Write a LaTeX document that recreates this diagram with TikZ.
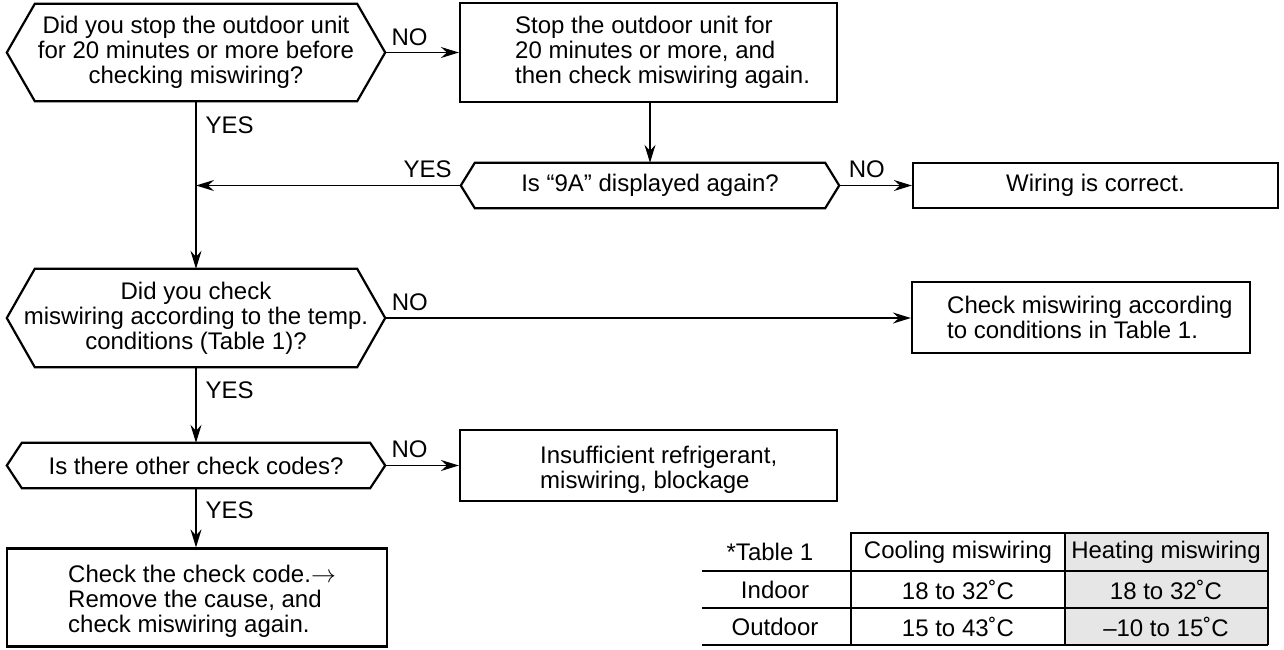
\documentclass[tikz,border=0pt]{standalone}
\usepackage{fontspec}
\setmainfont{Liberation Sans}
\usetikzlibrary{arrows.meta}
\definecolor{tblgray}{RGB}{230,230,230}
\newcommand{\hexdraw}[2]{\draw[hexline] (#1.west) -- ([xshift=#2pt]#1.north west) -- ([xshift=-#2pt]#1.north east) -- (#1.east) -- ([xshift=-#2pt]#1.south east) -- ([xshift=#2pt]#1.south west) -- cycle;}
\begin{document}
\begin{tikzpicture}[x=1pt,y=-1pt,
  every node/.style={font=\fontsize{24}{25}\selectfont, inner sep=0pt},
  sz/.style 2 args={minimum width=#1pt, minimum height=#2pt},
  boxn/.style={draw, line width=2.2pt},
  hexline/.style={line width=2.2pt, line join=miter},
  conn/.style={line width=1.4pt},
  arr/.style={conn, -{Stealth[length=18pt,width=11pt,inset=6pt]}},
  lbl/.style={inner sep=0pt},
  tline/.style={line width=1.3pt},
  touter/.style={line width=2pt},
]
\useasboundingbox (0,0) rectangle (1284,649);

% decisions
\node[sz={378}{97}, align=center] (h1) at (196,52.5) {Did you stop the outdoor unit\\for 20 minutes or more before\\checking miswiring?};
\hexdraw{h1}{28}
\node[sz={378}{45}] (h2) at (650,185.5) {Is “9A” displayed again?};
\hexdraw{h2}{14}
\node[sz={378}{98}, align=center] (h3) at (196,318) {Did you check\\miswiring according to the temp.\\conditions (Table 1)?};
\hexdraw{h3}{28}
\node[sz={378}{45}] (h4) at (196,465.5) {Is there other check codes?};
\hexdraw{h4}{15}

% process boxes
\node[boxn, sz={377}{99}] (b2) at (648.5,52.5) {};
\node[align=left, anchor=west] (b2t) at (515,52.5) {Stop the outdoor unit for\\20 minutes or more, and\\then check miswiring again.};
\node[boxn, sz={365}{45}] (b3) at (1095.5,185.5) {Wiring is correct.};
\node[boxn, sz={338}{71}] (b4) at (1081,317.5) {};
\node[align=left, anchor=west] (b4t) at (947,317.5) {Check miswiring according\\to conditions in Table 1.};
\node[boxn, sz={377}{71}] (b5) at (648.5,465.5) {};
\node[align=left, anchor=west] (b5t) at (540,469.5) {Insufficient refrigerant,\\miswiring, blockage};
\node[boxn, sz={380}{98}] (b6) at (197,597.5) {};
\node[align=left, anchor=west] (b6t) at (68,601) {Check the check code.$\rightarrow$\\Remove the cause, and\\check miswiring again.};

% connectors
\draw[arr] (h1.east) -- node[lbl, above=6pt, pos=0.33] {NO} (b2.west);
\draw[arr] (h1.south) -- node[lbl, right=9pt, pos=0.143] {YES} (h3.north);
\draw[arr] (b2.south -| h2.north) -- (h2.north);
\draw[arr] (h2.east) -- node[lbl, above=7pt, pos=0.38] {NO} (b3.west);
\draw[arr] (h2.west) -- node[lbl, above=7pt, pos=0.125] {YES} (h2.west -| h1.south);
\draw[arr] (h3.east) -- node[lbl, above=6.5pt, pos=0.047] {NO} (h3.east -| b4.west);
\draw[arr] (h3.south) -- node[lbl, right=9pt, pos=0.30] {YES} (h4.north);
\draw[arr] (h4.east) -- node[lbl, above=7pt, pos=0.33] {NO} (b5.west);
\draw[arr] (h4.south) -- node[lbl, right=9pt, pos=0.37] {YES} (h4.south |- b6.north);

% table
\fill[tblgray] (1065,533) rectangle (1268,645);
\draw[tline] (702,571) -- (1268,571);
\draw[tline] (702,608) -- (1268,608);
\draw[tline] (1065,533) -- (1065,645);
\draw[touter] (702,645) -- (1268,645);
\draw[touter] (851,645) -- (851,533) -- (1268,533) -- (1268,645);
\node (t00) at (770,552) {*Table 1};
\node (t01) at (958,552) {Cooling miswiring};
\node (t02) at (1166,552) {Heating miswiring};
\node (t10) at (775,590) {Indoor};
\node (t11) at (958,590) {18 to 32˚C};
\node (t12) at (1166,590) {18 to 32˚C};
\node (t20) at (775,627) {Outdoor};
\node (t21) at (958,627) {15 to 43˚C};
\node (t22) at (1166,627) {–10 to 15˚C};
\end{tikzpicture}
\end{document}
